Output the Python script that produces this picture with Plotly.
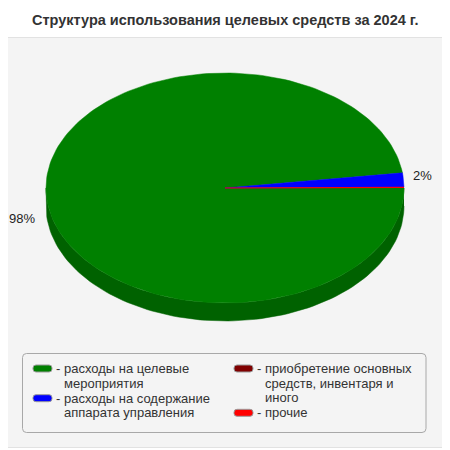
import numpy as np
import plotly.graph_objects as go

# data
title = 'Структура использования целевых средств за 2024 г.'
categories = [
    'расходы на целевые мероприятия',
    'расходы на содержание аппарата управления',
    'приобретение основных средств, инвентаря и иного',
    'прочие',
]
legend_lines = [
    ['расходы на целевые', 'мероприятия'],
    ['расходы на содержание', 'аппарата управления'],
    ['приобретение основных', 'средств, инвентаря и', 'иного'],
    ['прочие'],
]
values = [97.9, 2.0, 0.0, 0.1]
colors = ['#008000', '#0000ff', '#800000', '#ff0000']
side_colors = ['#006200', '#0000c4', '#620000', '#c40000']

FONT = 'Liberation Sans, Arial, sans-serif'
W, H = 450, 450
OFF = 8                # browser body margin, compensated in axis ranges
cx, cy = 225, 188      # pie centre (px)
rx, ry = 179, 115      # ellipse radii
depth = 18             # 3d thickness


def arc(t0, t1, dy=0, n=200):
    t = np.linspace(t0, t1, max(2, int(n * (t1 - t0) / (2 * np.pi)) + 2))
    return cx + rx * np.cos(t), cy + ry * np.sin(t) + dy


def rounded(x0, y0, x1, y1, r):
    return (f'M{x0+r},{y0} L{x1-r},{y0} Q{x1},{y0} {x1},{y0+r} '
            f'L{x1},{y1-r} Q{x1},{y1} {x1-r},{y1} L{x0+r},{y1} '
            f'Q{x0},{y1} {x0},{y1-r} L{x0},{y0+r} Q{x0},{y0} {x0+r},{y0} Z')


total = sum(values)
bounds = np.concatenate([[0], np.cumsum(values) / total * 2 * np.pi])

fig = go.Figure()

# sides (front half only, screen y grows downward so t in [0, pi])
for i in range(len(values)):
    a0, a1 = max(bounds[i], 0), min(bounds[i + 1], np.pi)
    if a1 <= a0:
        continue
    xt, yt = arc(a0, a1)
    xb, yb = arc(a0, a1, depth)
    fig.add_trace(go.Scatter(
        x=np.concatenate([xt, xb[::-1]]), y=np.concatenate([yt, yb[::-1]]),
        fill='toself', fillcolor=side_colors[i], mode='lines',
        line=dict(width=0.5, color=side_colors[i]), hoverinfo='skip', showlegend=False))

# top faces
for i in range(len(values)):
    if values[i] <= 0:
        continue
    xa, ya = arc(bounds[i], bounds[i + 1])
    lw = 0.5 if values[i] >= 1 else 1.2
    fig.add_trace(go.Scatter(
        x=np.concatenate([[cx], xa, [cx]]), y=np.concatenate([[cy], ya, [cy]]),
        fill='toself', fillcolor=colors[i], mode='lines',
        line=dict(width=lw, color=colors[i]), hoverinfo='skip', showlegend=False))

annotations = []
# percent labels
for i in range(len(values)):
    pct = values[i] / total * 100
    if pct < 1:
        continue
    tm = (bounds[i] + bounds[i + 1]) / 2
    c, s = np.cos(tm), np.sin(tm)
    x = cx + rx * c + (7 if c >= 0 else -9)
    y = cy + 1.6 * ry * s + (depth if s > 0 else 0)
    annotations.append(dict(
        x=x, y=y, text=f'{pct:.0f}%', showarrow=False,
        xanchor='left' if c >= 0 else 'right', yanchor='middle',
        font=dict(family=FONT, size=13, color='#222222')))

# title
annotations.append(dict(
    x=W / 2, y=20, text=f'<b>{title}</b>', showarrow=False,
    xanchor='center', yanchor='middle',
    font=dict(family=FONT, size=14.5, color='#333333')))

shapes = [
    dict(type='path', path=rounded(1.5, 37.5, 448.5, 447.5, 6), xref='x', yref='y',
         fillcolor='#f4f4f4', line=dict(color='#e2e2e2', width=1), layer='below'),
    dict(type='path', path=rounded(22.5, 353.5, 426, 432.5, 4), xref='x', yref='y',
         fillcolor='#f4f4f4', line=dict(color='#a8a8a8', width=1), layer='below'),
]

# legend: two columns, entries stacked
cols = [(33, [0, 1]), (234, [2, 3])]
line_h = 14.6
for sx, idx in cols:
    y = 368.5
    for i in idx:
        shapes.append(dict(type='path', path=rounded(sx, y - 3.5, sx + 19, y + 3.5, 3),
                           xref='x', yref='y', fillcolor=colors[i],
                           line=dict(color='#9a9a9a', width=1)))
        for k, ln in enumerate(legend_lines[i]):
            annotations.append(dict(
                x=sx + 22 if k == 0 else sx + 30, y=y + k * line_h,
                text=('- ' + ln) if k == 0 else ln, showarrow=False,
                xanchor='left', yanchor='middle', borderpad=0,
                font=dict(family=FONT, size=13, color='#333333')))
        y += len(legend_lines[i]) * line_h + 0.5

fig.update_layout(
    width=W, height=H, margin=dict(l=0, r=0, t=0, b=0),
    paper_bgcolor='white', plot_bgcolor='rgba(0,0,0,0)',
    xaxis=dict(range=[OFF, W + OFF], visible=False, fixedrange=True),
    yaxis=dict(range=[H + OFF, OFF], visible=False, fixedrange=True),
    shapes=shapes, annotations=annotations, showlegend=False,
)

fig.write_html('out.html')
